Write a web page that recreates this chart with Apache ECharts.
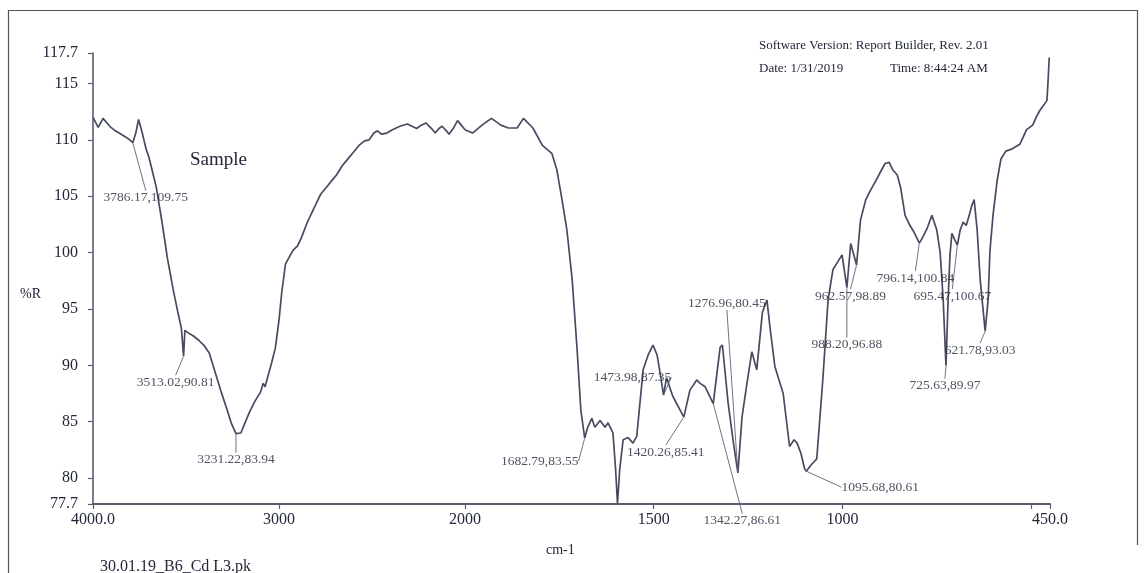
<!DOCTYPE html>
<html>
<head>
<meta charset="utf-8">
<title>FTIR spectrum – 30.01.19_B6_Cd L3</title>
<script src="https://cdn.jsdelivr.net/npm/echarts@6/dist/echarts.min.js"></script>
<style>
  html, body { margin: 0; padding: 0; background: #ffffff; }
  #chart { width: 1145px; height: 573px; }
</style>
</head>
<body>
<div id="chart"></div>
<script>
// Spectrum: wavenumber (cm-1) and reflectance (%R)
const wavenumbers = [
  4000, 3972, 3946, 3910, 3880, 3840, 3810, 3786.17, 3770, 3755, 3735, 3715, 3700, 3685, 3660,
  3630, 3600, 3570, 3545, 3525, 3513.02, 3506, 3490, 3460, 3430, 3400, 3375, 3362, 3340, 3310,
  3280, 3255, 3231.22, 3205, 3185, 3160, 3130, 3100, 3085, 3075, 3060, 3040, 3020, 3000, 2985,
  2965, 2945, 2925, 2900, 2880, 2850, 2810, 2775, 2745, 2715, 2690, 2660, 2635, 2600, 2570,
  2540, 2515, 2490, 2470, 2450, 2420, 2390, 2350, 2310, 2285, 2260, 2235, 2210, 2180, 2160,
  2140, 2123, 2100, 2086, 2060, 2040, 2020, 2000,
  1980, 1955, 1930, 1905, 1885, 1862, 1845, 1820, 1795, 1770, 1757, 1743, 1730, 1716, 1703,
  1693, 1682.79, 1675, 1664, 1656, 1642, 1629, 1621, 1608, 1601, 1596, 1590, 1581, 1568, 1555,
  1545, 1528, 1515, 1502, 1491, 1483, 1473.98, 1466, 1450, 1436, 1420.26, 1404, 1386, 1377, 1364,
  1342.27, 1324, 1318, 1303, 1290, 1276.96, 1266, 1253, 1240, 1227, 1212, 1200, 1192, 1179, 1157,
  1140, 1128, 1120, 1110, 1100, 1095.68, 1082, 1068, 1052, 1038, 1025, 1012, 1001, 988.20, 978,
  962.57, 952, 938, 926, 911, 900, 887, 876, 866, 855, 846, 834, 821, 810, 796.14,
  788, 775, 763, 750, 741, 733, 725.63, 720, 715, 710, 702, 695.47, 688, 680, 672,
  664, 657, 651, 643, 635, 621.78, 614, 609, 601, 590, 580, 567, 550, 530, 512,
  496, 485, 477, 466, 458, 455, 452
];
const reflectance = [
  112.0, 111.1, 111.9, 111.2, 110.8, 110.4, 110.1, 109.75, 110.6, 111.8, 110.6, 109.2, 108.5, 107.5, 105.8,
  102.8, 99.5, 96.8, 94.8, 93.3, 90.81, 93.1, 92.9, 92.6, 92.2, 91.7, 91.1, 90.4, 89.2, 87.6,
  86.1, 84.8, 83.94, 84.0, 84.8, 85.8, 86.8, 87.6, 88.4, 88.1, 89.0, 90.2, 91.5, 94.0, 96.5,
  99.0, 99.6, 100.2, 100.6, 101.3, 102.6, 104.0, 105.2, 105.8, 106.4, 106.9, 107.7, 108.2, 108.9, 109.5,
  109.9, 110.0, 110.6, 110.8, 110.5, 110.6, 110.9, 111.2, 111.4, 111.2, 111.0, 111.3, 111.5, 111.0, 110.6,
  111.0, 111.2, 110.8, 110.5, 111.1, 111.7, 111.3, 110.9,
  110.6, 111.3, 111.9, 111.3, 111.05, 111.05, 111.9, 111.05, 109.5, 108.8, 107.4, 104.7, 102.0, 97.6, 91.4,
  86.0, 83.55, 84.5, 85.3, 84.5, 85.1, 84.5, 84.9, 84.0, 80.8, 77.75, 80.8, 83.4, 83.6, 83.1,
  83.7, 89.6, 90.9, 91.8, 90.9, 89.3, 87.35, 88.9, 87.3, 86.4, 85.41, 87.8, 88.7, 88.4, 88.1,
  86.61, 91.6, 91.8, 86.7, 83.4, 80.45, 85.4, 88.4, 91.2, 89.6, 94.7, 95.8, 93.4, 89.9, 87.5,
  82.8, 83.4, 83.1, 82.2, 80.8, 80.61, 81.2, 81.7, 88.7, 95.8, 98.5, 99.2, 99.8, 96.88, 100.8,
  98.89, 102.9, 104.7, 105.5, 106.4, 107.1, 107.9, 108.0, 107.3, 106.9, 105.8, 103.3, 102.4, 101.8, 100.84,
  101.3, 102.2, 103.3, 102.0, 100.0, 95.8, 89.97, 95.8, 99.8, 101.7, 101.1, 100.67, 102.0, 102.7, 102.4,
  103.3, 104.2, 104.7, 102.0, 97.6, 93.03, 95.8, 100.2, 103.3, 106.4, 108.3, 109.0, 109.2, 109.6, 110.9,
  111.3, 112.1, 112.6, 113.1, 113.5, 115.3, 117.3
];

// Annotated peaks
const peakWavenumbers = [3786.17, 3513.02, 3231.22, 1682.79, 1473.98, 1420.26, 1342.27, 1276.96, 1095.68, 988.20, 962.57, 796.14, 725.63, 695.47, 621.78];
const peakReflectance = [109.75, 90.81, 83.94, 83.55, 87.35, 85.41, 86.61, 80.45, 80.61, 96.88, 98.89, 100.84, 89.97, 100.67, 93.03];

// Tick labels
const yTicks = [77.7, 80, 85, 90, 95, 100, 105, 110, 115, 117.7];
const xTicksHigh = [4000, 3000, 2000];
const xTicksLow = [1500, 1000, 450];
const xMinorTicksLow = [1500, 1000, 500, 450];

// Label placement (pixel offsets of each peak label from its peak)
const peakLabelOffsets = [
  [13, 55], [-8, 26], [0, 26], [-45, 23], [-31, -18], [-18, 35], [29, 117], [-11, -170],
  [74, 16], [0, 57], [-6, 31], [-4, 35], [-1, 20], [-5, 51], [-5, 19]
];

const BREAK = 2000;
const SERIF = "'Liberation Serif', 'Times New Roman', serif";
const INK = '#23273a';
const TRACE = '#474b60';
const AXIS = '#5a5d6e';

// split the spectrum at the scale change
const highPart = [], lowPart = [];
wavenumbers.forEach((w, i) => {
  if (w >= BREAK) highPart.push([w, reflectance[i]]);
  if (w <= BREAK) lowPart.push([w, reflectance[i]]);
});

const highPeaks = [], lowPeaks = [], highOffsets = [], lowOffsets = [];
peakWavenumbers.forEach((w, i) => {
  const item = [w, peakReflectance[i]];
  if (w > BREAK) { highPeaks.push(item); highOffsets.push(peakLabelOffsets[i]); }
  else { lowPeaks.push(item); lowOffsets.push(peakLabelOffsets[i]); }
});

const fmtY = v => (v === 117.7 || v === 77.7) ? v.toFixed(1) : String(Math.round(v));
const fmtX = v => (v === 4000 || v === 450) ? v.toFixed(1) : String(v);

const GRID_TOP = 53, GRID_H = 451;

function xAxisFor(gridIndex, min, max, labels, ticks) {
  return {
    type: 'value', gridIndex, min, max, inverse: true,
    axisLine: { show: true, lineStyle: { color: AXIS, width: 2 } },
    axisTick: { show: true, length: 5, customValues: ticks, lineStyle: { color: AXIS, width: 1.2 } },
    axisLabel: { customValues: labels, formatter: fmtX, color: INK, fontFamily: SERIF, fontSize: 16, margin: 8 },
    splitLine: { show: false }
  };
}

function yAxisFor(gridIndex, visible) {
  return {
    type: 'value', gridIndex, min: 77.7, max: 117.7, show: visible,
    axisLine: { show: visible, lineStyle: { color: AXIS, width: 1.6 } },
    axisTick: { show: visible, length: 5, customValues: yTicks, lineStyle: { color: AXIS, width: 1.2 } },
    axisLabel: { show: visible, customValues: yTicks, formatter: fmtY, color: INK, fontFamily: SERIF, fontSize: 16, margin: 15 },
    splitLine: { show: false }
  };
}

function peakSeries(axisIndex, data, offsets) {
  return {
    type: 'scatter', xAxisIndex: axisIndex, yAxisIndex: axisIndex,
    data, symbolSize: 1, itemStyle: { color: 'rgba(0,0,0,0)' },
    silent: true, z: 5,
    label: {
      show: true, position: 'inside',
      formatter: p => p.value[0].toFixed(2) + ',' + p.value[1].toFixed(2),
      color: INK, fontFamily: SERIF, fontSize: 13.5
    },
    labelLayout: p => ({ dx: offsets[p.dataIndex][0], dy: offsets[p.dataIndex][1] }),
    labelLine: { show: true, lineStyle: { color: '#5f6274', width: 0.9 } }
  };
}

const chart = echarts.init(document.getElementById('chart'), null, { renderer: 'canvas' });
chart.setOption({
  backgroundColor: '#ffffff',
  animation: false,
  grid: [
    { left: 93, width: 372, top: GRID_TOP, height: GRID_H },
    { left: 465, width: 585, top: GRID_TOP, height: GRID_H }
  ],
  xAxis: [
    xAxisFor(0, BREAK, 4000, xTicksHigh, xTicksHigh),
    xAxisFor(1, 450, BREAK, xTicksLow, xMinorTicksLow)
  ],
  yAxis: [yAxisFor(0, true), yAxisFor(1, false)],
  series: [
    { type: 'line', xAxisIndex: 0, yAxisIndex: 0, data: highPart, showSymbol: false, smooth: false,
      lineStyle: { color: TRACE, width: 1.7 }, silent: true },
    { type: 'line', xAxisIndex: 1, yAxisIndex: 1, data: lowPart, showSymbol: false, smooth: false,
      lineStyle: { color: TRACE, width: 1.7 }, silent: true },
    peakSeries(0, highPeaks, highOffsets),
    peakSeries(1, lowPeaks, lowOffsets)
  ],
  graphic: [
    // page frame
    { type: 'polyline', shape: { points: [[8.5, 573], [8.5, 10.5], [1137.5, 10.5], [1137.5, 545]] },
      style: { stroke: '#555', lineWidth: 1.2, fill: null }, silent: true },
    { type: 'text', left: 759, top: 39, style: { text: 'Software Version: Report Builder, Rev. 2.01', font: '13px ' + SERIF, fill: INK } },
    { type: 'text', left: 759, top: 62, style: { text: 'Date: 1/31/2019', font: '13px ' + SERIF, fill: INK } },
    { type: 'text', left: 890, top: 62, style: { text: 'Time: 8:44:24 AM', font: '13px ' + SERIF, fill: INK } },
    { type: 'text', left: 190, top: 151, style: { text: 'Sample', font: '19px ' + SERIF, fill: INK } },
    { type: 'text', left: 20, top: 287, style: { text: '%R', font: '14px ' + SERIF, fill: INK } },
    { type: 'text', left: 546, top: 543, style: { text: 'cm-1', font: '14px ' + SERIF, fill: INK } },
    { type: 'text', left: 100, top: 559, style: { text: '30.01.19_B6_Cd L3.pk', font: '16px ' + SERIF, fill: INK } }
  ]
});
</script>
</body>
</html>
